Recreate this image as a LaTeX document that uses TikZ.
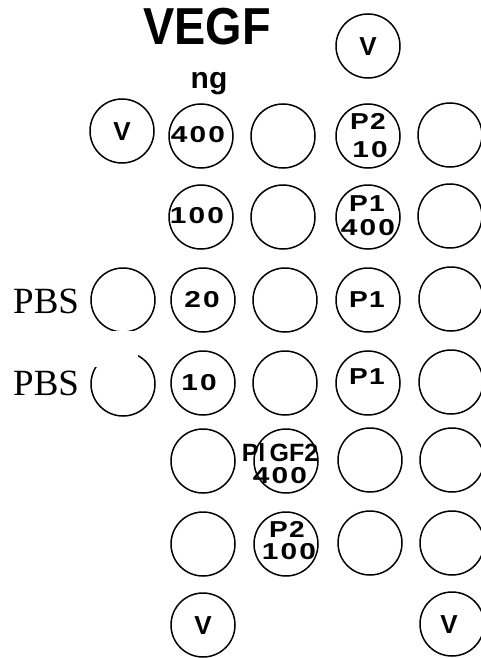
\documentclass[tikz,border=0pt]{standalone}
\usepackage{fontspec}
\setmainfont{Liberation Serif}
\newfontfamily\labf[FakeStretch=1.22,LetterSpace=6]{Liberation Sans Bold}
\newfontfamily\numf[FakeStretch=1.3,LetterSpace=9]{Liberation Sans Bold}
\newfontfamily\plainbf{Liberation Sans Bold}
\begin{document}
\begin{tikzpicture}[x=1pt,y=-1pt,
  well/.style={circle, draw, line width=1.5pt, minimum size=64pt, inner sep=0pt},
  lab/.style={inner sep=0pt, font=\labf\fontsize{23}{25}\selectfont},
  num/.style={inner sep=0pt, font=\numf\fontsize{23}{25}\selectfont},
  vlab/.style={inner sep=0pt, font=\plainbf\fontsize{26}{28}\selectfont},
  pbs/.style={inner sep=0pt, anchor=base west, font=\fontsize{37}{40}\selectfont}]
\useasboundingbox (0,0) rectangle (481,658);
% title
\node[inner sep=0pt, anchor=base, font=\plainbf\fontsize{52}{54}\selectfont] (title) at (207,45) {\scalebox{0.9}[1]{VEGF}};
\node[inner sep=0pt, anchor=base, font=\plainbf\fontsize{30}{32}\selectfont] (ng) at (209,89) {ng};
% top V
\node[well] (vtop) at (368,46) {};
\node[vlab] (vtopl) at (368,47) {V};
% row 1
\node[well] (r1c0) at (122,131) {};
\node[vlab] (r1c0l) at (122,132) {V};
\node[well] (r1c1) at (201,136) {};
\node[num] (r1c1l) at (198,135) {400};
\node[well] (r1c2) at (283,136) {};
\node[well] (r1c3) at (368,136) {};
\node[lab] (r1c3a) at (368,121) {P2};
\node[num] (r1c3b) at (370,150) {10};
\node[well] (r1c4) at (450,135) {};
% row 2
\node[well] (r2c1) at (201,217) {};
\node[num] (r2c1l) at (197,216) {100};
\node[well] (r2c2) at (283,217) {};
\node[well] (r2c3) at (368,217) {};
\node[lab] (r2c3a) at (367,204) {P1};
\node[num] (r2c3b) at (368,228) {400};
\node[well] (r2c4) at (450,216) {};
% row 3
\node[pbs] (pbs1) at (13,313) {PBS};
\node[well] (r3c0) at (123,300) {};
\node[well] (r3c1) at (203,300) {};
\node[num] (r3c1l) at (202,300) {20};
\node[well] (r3c2) at (285,300) {};
\node[well] (r3c3) at (368,300) {};
\node[lab] (r3c3l) at (367,300) {P1};
\node[well] (r3c4) at (451,299) {};
% row 4
\node[pbs] (pbs2) at (13,395) {PBS};
\node[well] (r4c0) at (123,384) {};
\node[well] (r4c1) at (203,383) {};
\node[num] (r4c1l) at (199,383) {10};
\node[well] (r4c2) at (285,383) {};
\node[well] (r4c3) at (368,383) {};
\node[lab] (r4c3l) at (367,377) {P1};
\node[well] (r4c4) at (451,382) {};
% mask
\fill[white] (0,331) rectangle (138,367);
\fill[white] (138,331) rectangle (160,335);
% row 5
\node[well] (r5c1) at (203,461) {};
\node[well] (r5c2) at (286,461) {};
\node[inner sep=0pt, font=\plainbf\fontsize{25}{27}\selectfont] (r5c2a) at (280,453) {Pl\,GF2};
\node[num] (r5c2b) at (280,476) {400};
\node[well] (r5c3) at (370,460) {};
\node[well] (r5c4) at (452,460) {};
% row 6
\node[well] (r6c1) at (203,544) {};
\node[well] (r6c2) at (286,544) {};
\node[lab] (r6c2a) at (287,529) {P2};
\node[num] (r6c2b) at (289,552) {100};
\node[well] (r6c3) at (370,543) {};
\node[well] (r6c4) at (452,543) {};
% row 7
\node[well] (r7c1) at (203,625) {};
\node[vlab] (r7c1l) at (203,626) {V};
\node[well] (r7c4) at (452,624) {};
\node[vlab] (r7c4l) at (449,625) {V};
\end{tikzpicture}
\end{document}
